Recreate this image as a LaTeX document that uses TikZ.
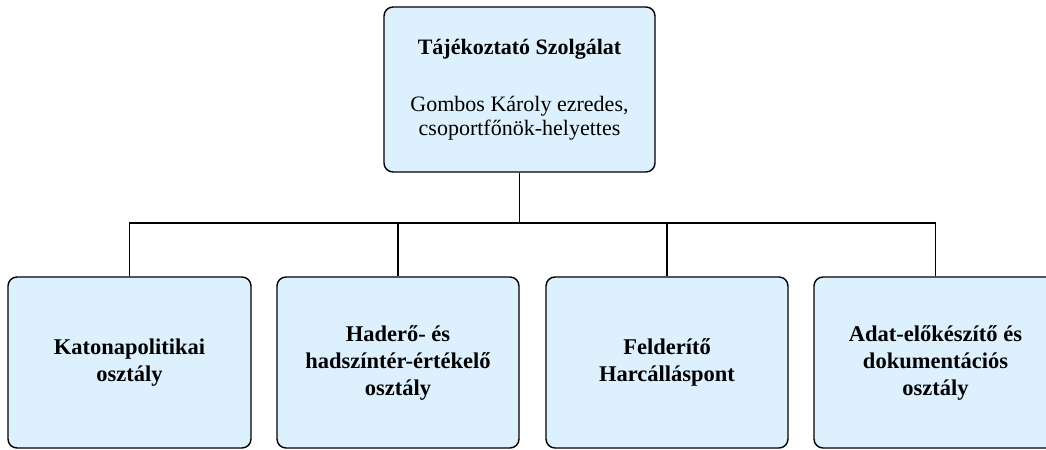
\documentclass[tikz,border=0pt]{standalone}
\usepackage{fontspec}
\setmainfont{Liberation Serif}
\definecolor{boxfill}{HTML}{DDF0FD}
\begin{document}
\begin{tikzpicture}[x=1bp,y=-1bp,
  orgbox/.style={draw=black, line width=1.4bp, fill=boxfill, rounded corners=9bp,
    align=center, inner sep=0pt, font=\fontsize{22.5bp}{27bp}\selectfont\bfseries},
  link/.style={draw=black, line width=1.4bp}]
\useasboundingbox (0,0) rectangle (1046,450);
\node[orgbox, minimum width=271bp, minimum height=165bp,
  font=\fontsize{22bp}{24bp}\selectfont] (top) at (519.5,89.5)
  {\textbf{Tájékoztató Szolgálat}\\[33bp]Gombos Károly ezredes,\\csoportfőnök-helyettes};
\node[orgbox, minimum width=243bp, minimum height=171bp] (a) at (129.5,362.5) {Katonapolitikai\\osztály};
\node[orgbox, minimum width=242bp, minimum height=171bp] (b) at (398,362.5) {Haderő- és\\hadszíntér-értékelő\\osztály};
\node[orgbox, minimum width=242bp, minimum height=171bp] (c) at (667,362.5) {Felderítő\\Harcálláspont};
\node[orgbox, minimum width=243bp, minimum height=171bp] (d) at (935.5,362.5) {Adat-előkészítő és\\dokumentációs\\osztály};
\coordinate (hub) at (519.5,223);
\draw[link] (top.south) -- (hub);
\draw[link] (a.north) |- (hub) -| (d.north);
\draw[link] (b.north) -- (b.north |- hub);
\draw[link] (c.north) -- (c.north |- hub);
\end{tikzpicture}
\end{document}
